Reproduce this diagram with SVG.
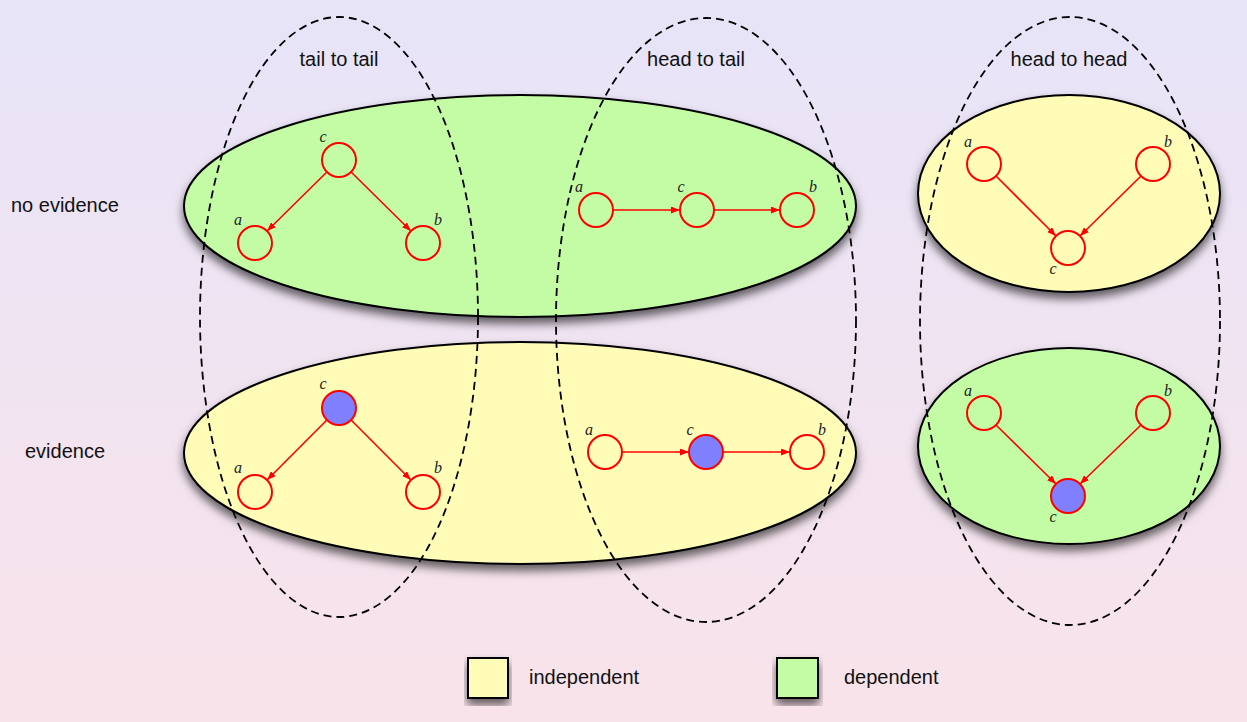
<svg xmlns="http://www.w3.org/2000/svg" width="1247" height="722" viewBox="0 0 1247 722">
<defs>
<linearGradient id="bg" x1="0" y1="0" x2="0" y2="1">
<stop offset="0" stop-color="#e7e4f8"/>
<stop offset="1" stop-color="#f9e3ea"/>
</linearGradient>
<filter id="sh" x="-10%" y="-10%" width="120%" height="130%">
<feDropShadow dx="0" dy="6" stdDeviation="5" flood-color="#000" flood-opacity="0.6"/>
</filter>
<marker id="ar" markerUnits="userSpaceOnUse" markerWidth="9" markerHeight="7" refX="9" refY="3.5" orient="auto">
<path d="M0,0 L9,3.5 L0,7 z" fill="#ff0000"/>
</marker>
<style>
.txt{font-family:"Liberation Sans",Arial,sans-serif;font-size:20px;fill:#111}
.lbl{font-family:"Liberation Serif","Times New Roman",serif;font-style:italic;font-size:16px;fill:#222}
.region{stroke:#000;stroke-width:2;filter:url(#sh)}
.green{fill:#c4fca5}
.yellow{fill:#fffcb8}
.dash{fill:none;stroke:#000;stroke-width:1.8;stroke-dasharray:8,5}
.node{fill:none;stroke:#ff0000;stroke-width:2}
.obs{fill:#8080ff;stroke:#ff0000;stroke-width:2}
.edge{stroke:#ff0000;stroke-width:1.6;fill:none;marker-end:url(#ar)}
.box{stroke:#000;stroke-width:2;filter:url(#sh)}
</style>
</defs>
<rect x="0" y="0" width="1247" height="722" fill="url(#bg)"/>

<g id="regions">
<ellipse id="r-noev-left" class="region green" cx="520" cy="206" rx="336" ry="111"/>
<ellipse id="r-ev-left" class="region yellow" cx="520" cy="453" rx="336" ry="111"/>
<ellipse id="r-noev-right" class="region yellow" cx="1069" cy="193.5" rx="151" ry="98.5"/>
<ellipse id="r-ev-right" class="region green" cx="1069" cy="446" rx="151" ry="98"/>
</g>

<g id="columns">
<ellipse id="col-tt" class="dash" cx="339" cy="317" rx="139" ry="300"/>
<ellipse id="col-ht" class="dash" cx="706" cy="320" rx="150" ry="302"/>
<ellipse id="col-hh" class="dash" cx="1070" cy="321" rx="150" ry="304"/>
</g>

<g id="titles">
<text class="txt" x="339" y="66" text-anchor="middle">tail to tail</text>
<text class="txt" x="696" y="66" text-anchor="middle">head to tail</text>
<text class="txt" x="1069" y="66" text-anchor="middle">head to head</text>
<text class="txt" x="11" y="212">no evidence</text>
<text class="txt" x="25" y="458">evidence</text>
</g>

<g id="connectors">
<line class="edge" x1="326.9" y1="172" x2="267.1" y2="231"/>
<line class="edge" x1="351.1" y1="172" x2="410.9" y2="231"/>
<line class="edge" x1="613" y1="210" x2="680" y2="210"/>
<line class="edge" x1="714" y1="210" x2="780" y2="210"/>
<line class="edge" x1="996" y1="176" x2="1056" y2="236"/>
<line class="edge" x1="1141" y1="176" x2="1080" y2="236"/>
<line class="edge" x1="326.9" y1="420" x2="267.1" y2="480"/>
<line class="edge" x1="351.1" y1="420" x2="410.9" y2="480"/>
<line class="edge" x1="622" y1="452" x2="689" y2="452"/>
<line class="edge" x1="723" y1="452" x2="790" y2="452"/>
<line class="edge" x1="996" y1="425" x2="1056" y2="484"/>
<line class="edge" x1="1141" y1="425" x2="1080" y2="484"/>
</g>

<g id="tt-noev-c"><circle class="node" cx="339" cy="160" r="17"/><text class="lbl" x="323" y="142" text-anchor="middle">c</text></g>
<g id="tt-noev-a"><circle class="node" cx="255" cy="243" r="17"/><text class="lbl" x="238" y="225" text-anchor="middle">a</text></g>
<g id="tt-noev-b"><circle class="node" cx="423" cy="243" r="17"/><text class="lbl" x="438" y="225" text-anchor="middle">b</text></g>

<g id="ht-noev-a"><circle class="node" cx="596" cy="210" r="17"/><text class="lbl" x="579" y="192" text-anchor="middle">a</text></g>
<g id="ht-noev-c"><circle class="node" cx="697" cy="210" r="17"/><text class="lbl" x="681" y="192" text-anchor="middle">c</text></g>
<g id="ht-noev-b"><circle class="node" cx="797" cy="210" r="17"/><text class="lbl" x="813" y="192" text-anchor="middle">b</text></g>

<g id="hh-noev-a"><circle class="node" cx="984" cy="164" r="17"/><text class="lbl" x="968" y="147" text-anchor="middle">a</text></g>
<g id="hh-noev-b"><circle class="node" cx="1153" cy="164" r="17"/><text class="lbl" x="1168" y="147" text-anchor="middle">b</text></g>
<g id="hh-noev-c"><circle class="node" cx="1068" cy="248" r="17"/><text class="lbl" x="1053" y="274" text-anchor="middle">c</text></g>

<g id="tt-ev-c"><circle class="obs" cx="339" cy="408" r="17"/><text class="lbl" x="323" y="389" text-anchor="middle">c</text></g>
<g id="tt-ev-a"><circle class="node" cx="255" cy="492" r="17"/><text class="lbl" x="238" y="473" text-anchor="middle">a</text></g>
<g id="tt-ev-b"><circle class="node" cx="423" cy="492" r="17"/><text class="lbl" x="438" y="473" text-anchor="middle">b</text></g>

<g id="ht-ev-a"><circle class="node" cx="605" cy="452" r="17"/><text class="lbl" x="589" y="435" text-anchor="middle">a</text></g>
<g id="ht-ev-c"><circle class="obs" cx="706" cy="452" r="17"/><text class="lbl" x="690" y="435" text-anchor="middle">c</text></g>
<g id="ht-ev-b"><circle class="node" cx="807" cy="452" r="17"/><text class="lbl" x="822" y="435" text-anchor="middle">b</text></g>

<g id="hh-ev-a"><circle class="node" cx="984" cy="413" r="17"/><text class="lbl" x="968" y="396" text-anchor="middle">a</text></g>
<g id="hh-ev-b"><circle class="node" cx="1153" cy="413" r="17"/><text class="lbl" x="1168" y="396" text-anchor="middle">b</text></g>
<g id="hh-ev-c"><circle class="obs" cx="1068" cy="496" r="17"/><text class="lbl" x="1053" y="522" text-anchor="middle">c</text></g>

<g id="legend-independent"><rect class="box yellow" x="468" y="658" width="40" height="40"/><text class="txt" x="529" y="684">independent</text></g>
<g id="legend-dependent"><rect class="box green" x="777" y="658" width="41" height="40"/><text class="txt" x="844" y="684">dependent</text></g>
</svg>
